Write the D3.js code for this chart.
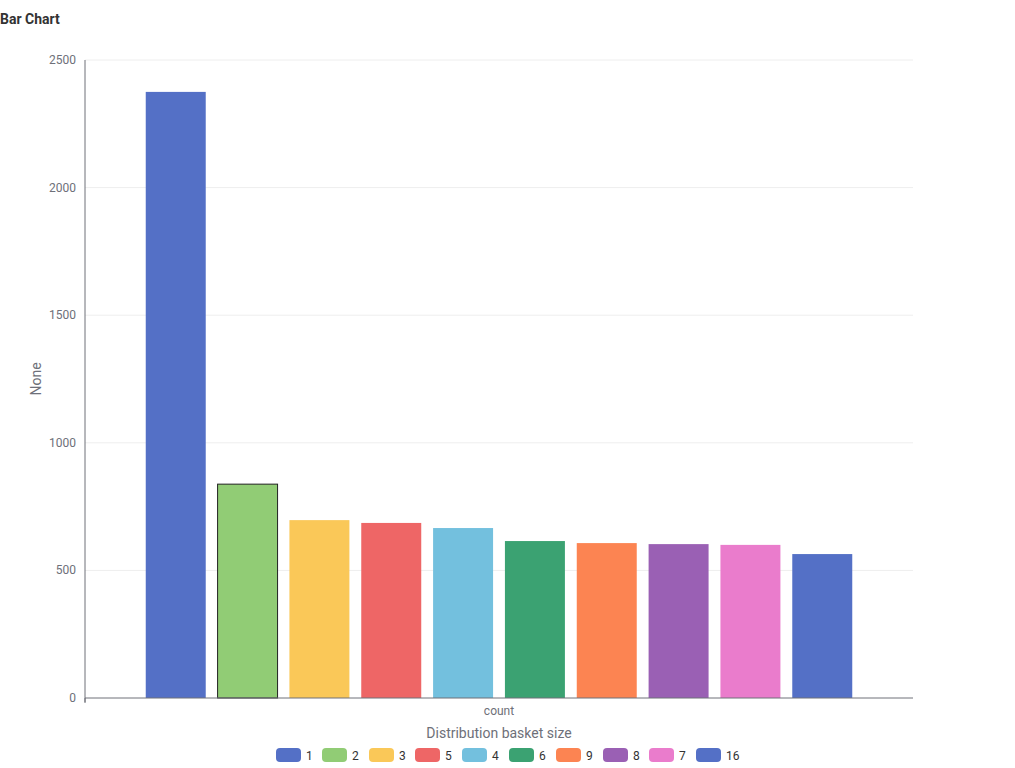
<!DOCTYPE html>
<html><head><meta charset="utf-8">
<script src="https://cdn.jsdelivr.net/npm/d3@7"></script>
<style>body{margin:0;background:#fff;font-family:Roboto,sans-serif}</style>
</head><body>
<svg id="chart" width="1015" height="768"></svg>
<script>
var series = ["1", "2", "3", "5", "4", "6", "9", "8", "7", "16"];
var values = [2375, 838, 697, 686, 666, 615, 607, 603, 600, 564];
var colors = ["#5470c6", "#91cc75", "#fac858", "#ee6666", "#73c0de", "#3ba272", "#fc8452", "#9a60b4", "#ea7ccc", "#5470c6"];
var yTicks = [0, 500, 1000, 1500, 2000, 2500];

var svg = d3.select("#chart");
var plotLeft = 85, plotRight = 913, plotTop = 60, plotBottom = 698;

svg.append("text").attr("x", 0).attr("y", 24)
  .style("font-size", "14px").style("font-weight", "bold").style("fill", "#333")
  .text("Bar Chart");

var y = d3.scaleLinear().domain([0, 2500]).range([plotBottom, plotTop]);
var cat = d3.scaleBand().domain(["count"]).range([plotLeft, plotRight]);
var xs = d3.scaleBand().domain(series).range([140, 858]).paddingInner(0.165).paddingOuter(0.08);

// grid
svg.append("g").selectAll("line").data(yTicks.slice(1)).enter().append("line")
  .attr("x1", plotLeft).attr("x2", plotRight)
  .attr("y1", function (d) { return y(d); }).attr("y2", function (d) { return y(d); })
  .style("stroke", "#eee");

// y axis
svg.append("line").attr("x1", plotLeft).attr("x2", plotLeft).attr("y1", plotTop).attr("y2", plotBottom + 4).style("stroke", "#6e7079");
svg.append("g").selectAll("text").data(yTicks).enter().append("text")
  .attr("x", 76).attr("y", function (d) { return y(d) + 4; })
  .attr("text-anchor", "end").style("font-size", "12px").style("fill", "#6e7079")
  .text(function (d) { return d; });

// bars
svg.append("g").selectAll("rect").data(values).enter().append("rect")
  .attr("x", function (d, i) { return xs(series[i]); })
  .attr("width", xs.bandwidth())
  .attr("y", function (d) { return y(d); })
  .attr("height", function (d) { return plotBottom - y(d); })
  .style("fill", function (d, i) { return colors[i]; })
  .style("stroke", function (d, i) { return i === 1 ? "#222" : "none"; });

// x axis
svg.append("line").attr("x1", plotLeft).attr("x2", plotRight).attr("y1", plotBottom).attr("y2", plotBottom).style("stroke", "#6e7079");
svg.append("line").attr("x1", plotLeft).attr("x2", plotLeft).attr("y1", plotBottom).attr("y2", plotBottom + 5).style("stroke", "#6e7079");
svg.append("text").attr("x", cat("count") + cat.bandwidth() / 2).attr("y", 715)
  .attr("text-anchor", "middle").style("font-size", "12px").style("fill", "#6e7079").text("count");

svg.append("text").attr("x", 499).attr("y", 738).attr("text-anchor", "middle")
  .style("font-size", "14px").style("fill", "#6e7079").text("Distribution basket size");
svg.append("text").attr("transform", "translate(41,379) rotate(-90)").attr("text-anchor", "middle")
  .style("font-size", "14px").style("fill", "#6e7079").text("None");

// legend
var lx = [276, 322, 369, 415, 462, 509, 556, 603, 649, 696];
var lg = svg.append("g").selectAll("g").data(series).enter().append("g")
  .attr("transform", function (d, i) { return "translate(" + lx[i] + ",748)"; });
lg.append("rect").attr("width", 25).attr("height", 14).attr("rx", 4)
  .style("fill", function (d, i) { return colors[i]; });
lg.append("text").attr("x", 30).attr("y", 11.5).style("font-size", "12px").style("fill", "#333")
  .text(function (d) { return d; });
</script>
</body></html>
